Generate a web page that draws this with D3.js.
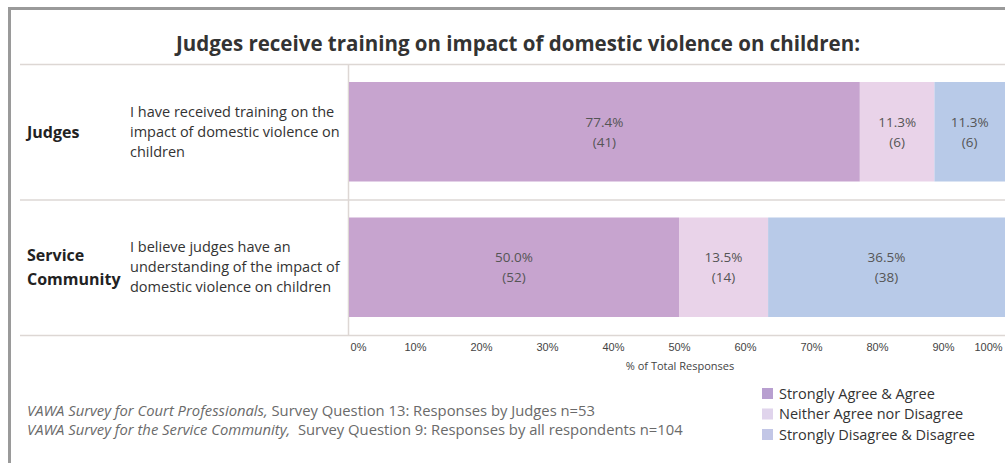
<!DOCTYPE html>
<html>
<head>
<meta charset="utf-8">
<script src="https://cdn.jsdelivr.net/npm/d3@7"></script>
<style>
  body { margin: 0; background: #fff; }
  svg { display: block; font-family: "Open Sans", "Noto Sans", sans-serif; }
</style>
</head>
<body>
<div id="chart"></div>
<script>
// data
var groups = ["Judges", "Service Community"];
var questions = [
  ["I have received training on the", "impact of domestic violence on", "children"],
  ["I believe judges have an", "understanding of the impact of", "domestic violence on children"]
];
var categories = ["Strongly Agree & Agree", "Neither Agree nor Disagree", "Strongly Disagree & Disagree"];
var percents = [[77.4, 11.3, 11.3], [50.0, 13.5, 36.5]];
var counts = [[41, 6, 6], [52, 14, 38]];
var ticks = [0, 10, 20, 30, 40, 50, 60, 70, 80, 90, 100];
var barColors = ["#c7a4cf", "#e9d3e9", "#b8cae8"];
var legendColors = ["#b89fd0", "#e0d4ec", "#c2c6e6"];
var footnotes = [
  ["VAWA Survey for Court Professionals,", " Survey Question 13: Responses by Judges n=53"],
  ["VAWA Survey for the Service Community,", "\u00a0 Survey Question 9: Responses by all respondents n=104"]
];

var W = 1005, H = 463;
var svg = d3.select("#chart").append("svg").attr("width", W).attr("height", H);

// frame
svg.append("path").attr("d", "M9.5," + H + " V8.5 H" + W)
  .attr("fill", "none").attr("stroke", "#9a9a9a").attr("stroke-width", 3);

svg.append("text").attr("x", 518).attr("y", 51).attr("text-anchor", "middle")
  .attr("font-size", 20.5).attr("font-weight", "bold").attr("fill", "#333")
  .text("Judges receive training on impact of domestic violence on children:");

var x = d3.scaleLinear().domain([0, 100]).range([349, 1009]);
var y = d3.scaleBand().domain(groups).range([64, 335]).paddingInner(0).paddingOuter(0);
var barPad = 18;

// grid lines
var lineCol = "#ddd7d4";
[64, y(groups[1]), 335].forEach(function (v) {
  svg.append("line").attr("x1", 20).attr("x2", W).attr("y1", v + 0.5).attr("y2", v + 0.5)
    .attr("stroke", lineCol).attr("stroke-width", 1.5);
});
svg.append("line").attr("x1", 348.5).attr("x2", 348.5).attr("y1", 64).attr("y2", 335)
  .attr("stroke", lineCol).attr("stroke-width", 1.5);

// stacked segments
var rows = groups.map(function (g, i) {
  var start = 0;
  return percents[i].map(function (p, j) {
    var seg = { group: g, j: j, x0: start, x1: start + p, p: p, n: counts[i][j] };
    start += p;
    return seg;
  });
});

var rowG = svg.selectAll("g.row").data(rows).enter().append("g").attr("class", "row");
rowG.selectAll("rect").data(function (d) { return d; }).enter().append("rect")
  .attr("x", function (d) { return x(d.x0); })
  .attr("width", function (d) { return x(d.x1) - x(d.x0); })
  .attr("y", function (d) { return y(d.group) + barPad; })
  .attr("height", y.bandwidth() - 2 * barPad)
  .attr("fill", function (d) { return barColors[d.j]; });

var lab = rowG.selectAll("text.val").data(function (d) { return d; }).enter().append("text")
  .attr("class", "val")
  .attr("text-anchor", "middle").attr("font-size", 13.5).attr("fill", "#555")
  .attr("x", function (d) { return (x(d.x0) + Math.min(x(d.x1), W)) / 2; })
  .attr("y", function (d) { return y(d.group) + y.bandwidth() / 2 - 5; });
lab.append("tspan").text(function (d) { return d.p.toFixed(1) + "%"; });
lab.append("tspan").attr("x", function (d) { return (x(d.x0) + Math.min(x(d.x1), W)) / 2; })
  .attr("dy", 20).text(function (d) { return "(" + d.n + ")"; });

// row headers
groups.forEach(function (g, i) {
  var cy = y(g) + y.bandwidth() / 2;
  var words = g.split(" ");
  var t = svg.append("text").attr("x", 27).attr("font-size", 16).attr("font-weight", "bold")
    .attr("fill", "#222");
  words.forEach(function (w, k) {
    t.append("tspan").attr("x", 27)
      .attr("y", cy + 6 + (k - (words.length - 1) / 2) * 24).text(w);
  });
  var q = svg.append("text").attr("x", 130).attr("font-size", 14.5).attr("fill", "#333");
  questions[i].forEach(function (line, k) {
    q.append("tspan").attr("x", 130).attr("y", cy + 5 + (k - 1) * 20).text(line);
  });
});

// x axis
var axis = d3.axisBottom(x).tickValues(ticks).tickSize(0).tickPadding(0)
  .tickFormat(function (d) { return d + "%"; });
var ax = svg.append("g").attr("transform", "translate(0,343)").call(axis);
ax.select(".domain").remove();
ax.selectAll("text").attr("font-size", 11).attr("fill", "#444")
  .attr("font-family", "inherit")
  .attr("dx", function (d) { return d === 0 ? 9 : d === 100 ? -21 : 0; });
svg.append("text").attr("x", 680).attr("y", 370).attr("text-anchor", "middle")
  .attr("font-size", 11).attr("fill", "#444").text("% of Total Responses");

// footnotes
footnotes.forEach(function (f, i) {
  var t = svg.append("text").attr("x", 27).attr("y", 416 + i * 19).attr("font-size", 14.8)
    .attr("fill", "#6a6a6a");
  t.append("tspan").attr("font-style", "italic").text(f[0]);
  t.append("tspan").text(f[1]);
});

// legend
var leg = svg.selectAll("g.leg").data(categories).enter().append("g").attr("class", "leg")
  .attr("transform", function (d, i) { return "translate(762," + (388 + i * 20.5) + ")"; });
leg.append("rect").attr("width", 11).attr("height", 11)
  .attr("fill", function (d, i) { return legendColors[i]; });
leg.append("text").attr("x", 17).attr("y", 10.5).attr("font-size", 14.5).attr("fill", "#333")
  .text(function (d) { return d; });
</script>
</body>
</html>
